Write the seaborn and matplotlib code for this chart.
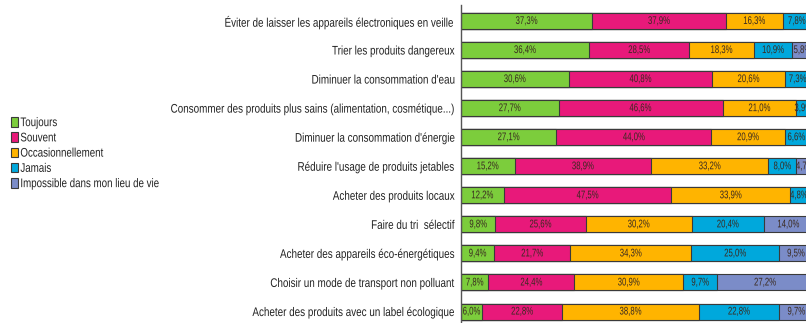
import matplotlib
matplotlib.use("Agg")
import matplotlib.pyplot as plt
from matplotlib.patches import Patch
from matplotlib.patheffects import AbstractPathEffect
from matplotlib.transforms import Affine2D
import pandas as pd
import seaborn as sns

categories = [
    "Éviter de laisser les appareils électroniques en veille",
    "Trier les produits dangereux",
    "Diminuer la consommation d'eau",
    "Consommer des produits plus sains (alimentation, cosmétique...)",
    "Diminuer la consommation d'énergie",
    "Réduire l'usage de produits jetables",
    "Acheter des produits locaux",
    "Faire du tri  sélectif",
    "Acheter des appareils éco-énergétiques",
    "Choisir un mode de transport non polluant",
    "Acheter des produits avec un label écologique",
]

series_names = ["Toujours", "Souvent", "Occasionnellement", "Jamais",
                "Impossible dans mon lieu de vie"]

toujours = [37.3, 36.4, 30.6, 27.7, 27.1, 15.2, 12.2, 9.8, 9.4, 7.8, 6.0]
souvent = [37.9, 28.5, 40.8, 46.6, 44.0, 38.9, 47.5, 25.6, 21.7, 24.4, 22.8]
occasionnellement = [16.3, 18.3, 20.6, 21.0, 20.9, 33.2, 33.9, 30.2, 34.3, 30.9, 38.8]
jamais = [7.8, 10.9, 7.3, 3.9, 6.6, 8.0, 4.8, 20.4, 25.0, 9.7, 22.8]
impossible = [0.7, 5.8, 0.7, 0.8, 1.4, 4.7, 1.6, 14.0, 9.5, 27.2, 9.7]

colors = ["#7ccd3c", "#e8197a", "#ffb400", "#00a8dc", "#7b8cc8"]


class Condense(AbstractPathEffect):
    """Squeeze a text path horizontally around its anchor edge (narrow type)."""

    def __init__(self, sx=0.78, anchor="center"):
        super().__init__()
        self.sx = sx
        self.anchor = anchor

    def draw_path(self, renderer, gc, tpath, affine, rgbFace=None):
        pts = affine.transform(tpath.vertices)
        if len(pts):
            xs = pts[:, 0]
            if self.anchor == "right":
                x0 = xs.max()
            elif self.anchor == "left":
                x0 = xs.min()
            else:
                x0 = 0.5 * (xs.min() + xs.max())
            affine = affine + Affine2D().translate(-x0, 0).scale(self.sx, 1).translate(x0, 0)
        renderer.draw_path(gc, tpath, affine, rgbFace)


sns.set_theme(style="white")
plt.rcParams["font.family"] = ["Liberation Sans", "DejaVu Sans"]

df = pd.DataFrame({"categorie": categories})
values = [toujours, souvent, occasionnellement, jamais, impossible]
for name, vals in zip(series_names, values):
    df[name] = vals
cum = df[series_names].cumsum(axis=1)
cum["categorie"] = categories

fig = plt.figure(figsize=(8.06, 3.23), dpi=100)
ax = fig.add_axes([461 / 806, -4.5 / 323, 352 / 806, 322.5 / 323])

# stacked bars: draw the running totals from the longest down
for i in reversed(range(len(series_names))):
    sns.barplot(data=cum, x=series_names[i], y="categorie",
                orient="h", color=colors[i], width=0.55, edgecolor="#3a3a3a",
                linewidth=0.8, saturation=1, ax=ax)

for i, name in enumerate(series_names):
    for j, v in enumerate(df[name]):
        center = cum[name].iloc[j] - v / 2
        if center > 97.8:
            continue
        ax.text(center, j, f"{v:.1f}%".replace(".", ","), ha="center", va="center",
                fontsize=8, color="#3a2a20",
                path_effects=[Condense(0.7, "center")])

ax.set_xlim(0, 100)
ax.set_ylim(len(categories) - 1 + 0.55, -0.55)
ax.set_xlabel("")
ax.set_ylabel("")
ax.set_xticks([])
ax.tick_params(axis="y", length=0, pad=4, labelsize=9, labelcolor="#222222")
for lbl in ax.get_yticklabels():
    lbl.set_path_effects([Condense(0.79, "right")])
for side in ["top", "right", "bottom"]:
    ax.spines[side].set_visible(False)
ax.spines["left"].set_color("#555555")
ax.spines["left"].set_linewidth(1.0)

handles = [Patch(facecolor=c, edgecolor="#3a3a3a", linewidth=0.8) for c in colors]
leg = fig.legend(handles, series_names, loc="upper left",
                 bbox_to_anchor=(11 / 806, 1 - 117 / 323),
                 frameon=False, fontsize=9, handlelength=0.55, handleheight=0.8,
                 handletextpad=0.2, labelspacing=0.25, borderaxespad=0, borderpad=0)
for t in leg.get_texts():
    t.set_color("#222222")
    t.set_path_effects([Condense(0.78, "left")])

fig.savefig("out.png", dpi=100)
